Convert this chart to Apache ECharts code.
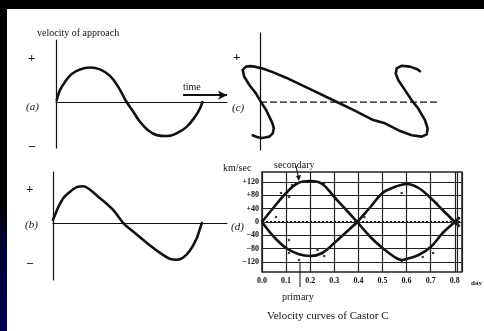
<!DOCTYPE html>
<html>
<head>
<meta charset="utf-8">
<script src="https://cdn.jsdelivr.net/npm/echarts@6/dist/echarts.min.js"></script>
<style>
  html, body { margin: 0; padding: 0; background: #fff; }
  #chart { width: 484px; height: 331px; }
</style>
</head>
<body>
<div id="chart"></div>
<script>
// (a) circular orbit: plain sine-like velocity curve (arbitrary units)
const aTime = [0.004, 0.023, 0.053, 0.092, 0.140, 0.199, 0.257, 0.316, 0.364, 0.413, 0.452, 0.491, 0.540, 0.589, 0.647, 0.706, 0.764, 0.813, 0.842, 0.856];
const aVel  = [0.04, 0.26, 0.44, 0.61, 0.71, 0.75, 0.71, 0.57, 0.33, 0.0, -0.21, -0.43, -0.62, -0.72, -0.74, -0.68, -0.54, -0.32, -0.14, 0.0];

// (b) eccentric orbit: skewed velocity curve
const bTime = [0.0, 0.011, 0.031, 0.059, 0.098, 0.136, 0.174, 0.270, 0.347, 0.404, 0.462, 0.538, 0.615, 0.672, 0.711, 0.749, 0.787, 0.826, 0.845, 0.855];
const bVel  = [0.07, 0.17, 0.35, 0.54, 0.68, 0.78, 0.80, 0.54, 0.28, 0.0, -0.19, -0.43, -0.65, -0.78, -0.80, -0.75, -0.60, -0.33, -0.12, 0.0];

// (c) impossible, multi-valued curve (traced in drawing order)
const cTime = [-0.041, -0.017, 0.006, 0.028, 0.053, 0.072, 0.078, 0.072, 0.062, 0.034, 0.006, -0.023, -0.060, -0.089, -0.098, -0.093, -0.079, -0.056, -0.032, 0.015, 0.072, 0.147, 0.301, 0.414, 0.527, 0.640, 0.706, 0.781, 0.857, 0.914, 0.942, 0.947, 0.932, 0.894, 0.857, 0.819, 0.781, 0.767, 0.772, 0.801, 0.847, 0.885, 0.904];
const cVel  = [-0.72, -0.76, -0.78, -0.77, -0.75, -0.68, -0.57, -0.48, -0.39, -0.17, 0.0, 0.19, 0.37, 0.55, 0.70, 0.74, 0.77, 0.78, 0.77, 0.73, 0.65, 0.53, 0.25, 0.04, -0.17, -0.39, -0.46, -0.61, -0.72, -0.75, -0.70, -0.57, -0.39, -0.14, 0.04, 0.26, 0.48, 0.62, 0.73, 0.79, 0.77, 0.72, 0.67];

// (d) Castor C, radial velocity (km/sec) against time (day)
const dDays      = [0, 0.05, 0.1, 0.15, 0.2, 0.25, 0.3, 0.35, 0.395, 0.45, 0.5, 0.55, 0.58, 0.6, 0.65, 0.7, 0.75, 0.8, 0.82];
const secondary  = [0, 45, 87, 117, 123, 114, 75, 36, 0, -45, -78, -105, -114, -111, -99, -75, -33, 0, 14];
const primary    = [0, -45, -78, -96, -102, -93, -63, -30, 0, 45, 87, 105, 112, 114, 102, 72, 36, 0, -14];
const obsDays    = [0.079, 0.112, 0.125, 0.237, 0.258, 0.112, 0.112, 0.23, 0.258, 0.058, 0.58, 0.725, 0.71, 0.667, 0.58, 0.154, 0.425, 0.0, 0.81];
const obsVel     = [87, 75, 111, 120, 117, -54, -93, -84, -102, 15, 87, 57, -93, -105, -120, -114, 15, 4, -4];
const dYTicks    = [-120, -80, -40, 0, 40, 80, 120];
const dXTicks    = ['0.0', '0.1', '0.2', '0.3', '0.4', '0.5', '0.6', '0.7', '0.8'];

const ink = '#111';
const serif = '"Liberation Serif", "DejaVu Serif", serif';

function pairs(xs, ys) { return xs.map((x, i) => [x, ys[i]]); }

function sketchAxes(gridIndex, xMin, xMax, yMin, yMax, showX) {
  return {
    x: {
      type: 'value', gridIndex, min: xMin, max: xMax,
      axisLine: { show: showX, onZero: true, lineStyle: { color: ink, width: 1.2 } },
      axisTick: { show: false }, axisLabel: { show: false }, splitLine: { show: false }
    },
    y: {
      type: 'value', gridIndex, min: yMin, max: yMax,
      axisLine: { show: true, onZero: true, lineStyle: { color: ink, width: 1.2 } },
      axisTick: { show: false }, axisLabel: { show: false }, splitLine: { show: false }
    }
  };
}

const axA = sketchAxes(0, 0, 1, -1, 1.35, true);
const axB = sketchAxes(1, 0, 1, -1.24, 1.11, true);
const axC = sketchAxes(2, -0.113, 1, -1.04, 1.5, false);

const curveStyle = { color: ink, width: 2.6, join: 'round', cap: 'round' };

function txt(text, x, y, size, opts) {
  return Object.assign({
    type: 'text', left: x, top: y,
    style: Object.assign({ text, fill: ink, font: size + 'px ' + serif, textVerticalAlign: 'middle' }, (opts && opts.style) || {})
  }, opts && opts.extra || {});
}

const chart = echarts.init(document.getElementById('chart'), null, { renderer: 'canvas' });

chart.setOption({
  backgroundColor: '#fff',
  animation: false,
  grid: [
    { left: 56, top: 40, width: 171, height: 108 },
    { left: 53, top: 172, width: 174, height: 108 },
    { left: 240, top: 33, width: 197, height: 117 },
    { left: 262, top: 172, width: 200, height: 100, show: true, borderColor: '#222', borderWidth: 1.5 }
  ],
  xAxis: [axA.x, axB.x, axC.x, {
    type: 'value', gridIndex: 3, min: 0, max: 0.83, interval: 0.1,
    axisLine: { show: false }, axisTick: { show: false },
    axisLabel: {
      margin: 5, color: ink, fontFamily: serif, fontSize: 8, fontWeight: 'bold',
      formatter: v => { const i = Math.round(v * 10); return Math.abs(v * 10 - i) < 0.01 ? dXTicks[i] : ''; }
    },
    splitLine: { show: true, lineStyle: { color: '#222', width: 1.2 } }
  }],
  yAxis: [axA.y, axB.y, axC.y, {
    type: 'value', gridIndex: 3, min: -150, max: 150, interval: 10,
    axisLine: { show: false }, axisTick: { show: false }, splitLine: { show: false },
    axisLabel: {
      margin: 3, color: ink, fontFamily: serif, fontSize: 8, fontWeight: 'bold',
      formatter: v => dYTicks.indexOf(v) < 0 ? '' : (v > 0 ? '+' + v : (v < 0 ? '\u2212' + (-v) : '0'))
    }
  }],
  series: [
    {
      type: 'line', xAxisIndex: 0, yAxisIndex: 0, data: pairs(aTime, aVel),
      smooth: 0.4, showSymbol: false, lineStyle: curveStyle,
      markLine: {
        silent: true, symbol: ['none', 'arrow'], symbolSize: [7, 9], label: { show: false },
        lineStyle: { color: ink, width: 2, type: 'solid' },
        data: [[{ coord: [0.743, 0.15] }, { coord: [1.0, 0.15] }]]
      }
    },
    {
      type: 'line', xAxisIndex: 1, yAxisIndex: 1, data: pairs(bTime, bVel),
      smooth: 0.25, showSymbol: false, lineStyle: curveStyle
    },
    {
      type: 'line', xAxisIndex: 2, yAxisIndex: 2, data: pairs(cTime, cVel),
      smooth: false, showSymbol: false, clip: false, lineStyle: curveStyle
    },
    {
      // dashed time axis of (c), starting at the velocity axis
      type: 'line', xAxisIndex: 2, yAxisIndex: 2, data: [[0, 0], [1, 0]],
      showSymbol: false, lineStyle: { color: ink, width: 1.2, type: [7, 3] }
    },
    {
      // horizontal rulings of the velocity grid
      type: 'line', xAxisIndex: 3, yAxisIndex: 3, data: [],
      markLine: {
        silent: true, symbol: 'none', label: { show: false },
        lineStyle: { color: '#222', width: 1.2, type: 'solid' },
        data: dYTicks.map(v => ({ yAxis: v })).concat([{ xAxis: 0.812 }])
      }
    },
    {
      type: 'line', xAxisIndex: 3, yAxisIndex: 3, data: [[0, 0], [0.83, 0]],
      showSymbol: false, lineStyle: { color: ink, width: 2.2, type: [2, 2] }
    },
    {
      name: 'secondary', type: 'line', xAxisIndex: 3, yAxisIndex: 3, data: pairs(dDays, secondary),
      smooth: 0.4, showSymbol: false, lineStyle: { color: ink, width: 2.6 }
    },
    {
      name: 'primary', type: 'line', xAxisIndex: 3, yAxisIndex: 3, data: pairs(dDays, primary),
      smooth: 0.4, showSymbol: false, lineStyle: { color: ink, width: 2.6 }
    },
    {
      type: 'scatter', xAxisIndex: 3, yAxisIndex: 3, data: pairs(obsDays, obsVel),
      symbol: 'circle', symbolSize: 2.6, itemStyle: { color: ink }
    }
  ],
  graphic: [
    // dark slide frame
    { type: 'rect', left: 0, top: 0, z: 100, shape: { width: 484, height: 9 }, style: { fill: '#000' } },
    {
      type: 'rect', left: 0, top: 0, z: 100, shape: { width: 7, height: 331 },
      style: { fill: new echarts.graphic.LinearGradient(0, 0, 0, 1, [
        { offset: 0, color: '#000' }, { offset: 0.62, color: '#000' }, { offset: 0.72, color: '#00002e' }, { offset: 1, color: '#000050' }
      ]) }
    },
    txt('velocity of approach', 37, 28, 10),
    txt('+', 28, 52, 13, { style: { font: 'bold 13px ' + serif } }),
    txt('\u2013', 29, 140, 12, { style: { font: 'bold 12px ' + serif } }),
    txt('(a)', 26, 102, 11, { style: { font: 'italic 11px ' + serif } }),
    txt('time', 183, 82, 10),
    txt('+', 233, 51, 13, { style: { font: 'bold 13px ' + serif } }),
    txt('(c)', 232, 103, 11, { style: { font: 'italic 11px ' + serif } }),
    txt('+', 26, 183, 13, { style: { font: 'bold 13px ' + serif } }),
    txt('\u2013', 27, 257, 12, { style: { font: 'bold 12px ' + serif } }),
    txt('(b)', 25, 220, 11, { style: { font: 'italic 11px ' + serif } }),
    txt('km/sec', 223, 163, 10),
    txt('secondary', 274, 160, 10),
    txt('(d)', 231, 222, 11, { style: { font: 'italic 11px ' + serif } }),
    txt('primary', 282, 292, 10),
    txt('day', 471, 280, 7, { style: { font: 'bold 7px ' + serif } }),
    txt('Velocity curves of Castor C', 267, 311, 11),
    // leaders to the two components
    { type: 'line', z: 10, shape: { x1: 296, y1: 166, x2: 298.5, y2: 178 }, style: { stroke: ink, lineWidth: 1 } },
    { type: 'polygon', z: 10, shape: { points: [[296, 176], [301, 175], [299, 181]] }, style: { fill: ink } },
    { type: 'line', z: 10, shape: { x1: 300, y1: 262, x2: 300, y2: 287 }, style: { stroke: ink, lineWidth: 1 } }
  ]
});
</script>
</body>
</html>
